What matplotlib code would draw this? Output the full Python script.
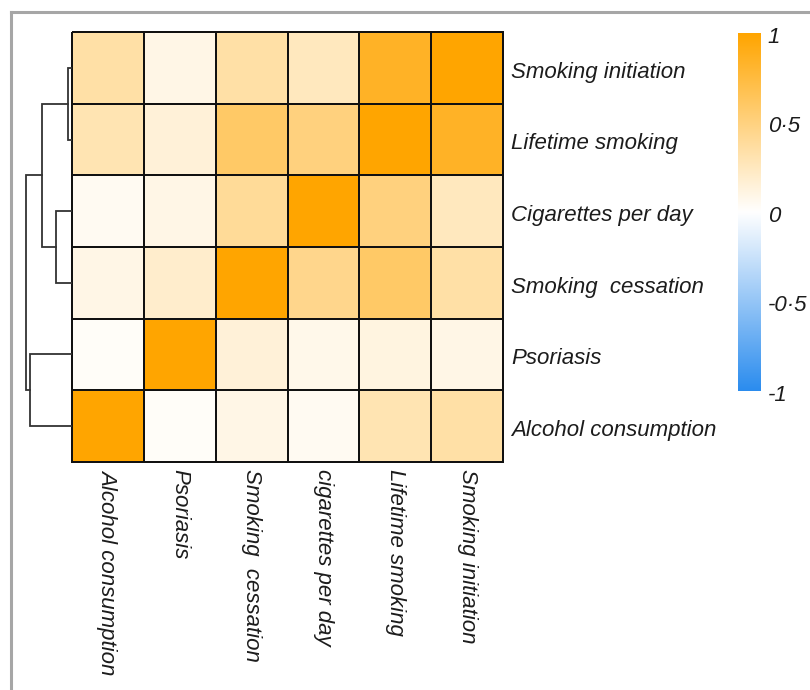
import matplotlib.pyplot as plt
import numpy as np
from matplotlib.colors import LinearSegmentedColormap
from matplotlib.lines import Line2D

plt.rcParams['font.family'] = ['Liberation Sans', 'DejaVu Sans']

row_labels = ['Smoking initiation', 'Lifetime smoking', 'Cigarettes per day',
              'Smoking  cessation', 'Psoriasis', 'Alcohol consumption']
col_labels = ['Alcohol consumption', 'Psoriasis', 'Smoking  cessation',
              'cigarettes per day', 'Lifetime smoking', 'Smoking initiation']

# correlation values, rows top->bottom, columns left->right
corr = np.array([
    [0.35, 0.10, 0.35, 0.25, 0.85, 1.00],
    [0.30, 0.15, 0.60, 0.50, 1.00, 0.85],
    [0.05, 0.10, 0.40, 1.00, 0.50, 0.25],
    [0.10, 0.20, 1.00, 0.45, 0.60, 0.35],
    [0.03, 1.00, 0.15, 0.08, 0.12, 0.10],
    [1.00, 0.03, 0.10, 0.05, 0.30, 0.35],
])

# dendrogram merges on rows (scipy-like: a, b, height); new ids start at 6
merges = [(0, 1, 4), (2, 3, 16), (6, 7, 30), (4, 5, 42), (8, 9, 46)]

cbar_ticks = [1, 0.5, 0, -0.5, -1]
cbar_labels = ['1', '0\u00b75', '0', '-0\u00b75', '-1']

cmap = LinearSegmentedColormap.from_list(
    'bwo', ['#2B8CEE', '#FFFFFF', '#FFA500'])

W, H = 810, 690
fig = plt.figure(figsize=(W / 100, H / 100), dpi=100)


def px_axes(x0, y0, x1, y1):
    return fig.add_axes([x0 / W, 1 - y1 / H, (x1 - x0) / W, (y1 - y0) / H])


# gray frame (top and left only)
fig.add_artist(Line2D([11 / W, 1], [1 - 12 / H, 1 - 12 / H], color='#a6a6a6', lw=2.2))
fig.add_artist(Line2D([11 / W, 11 / W], [1 - 12 / H, 0], color='#a6a6a6', lw=2.2))

# heatmap
hx0, hy0, hx1, hy1 = 72, 32, 503, 462
ax = px_axes(hx0, hy0, hx1, hy1)
n = len(row_labels)
mesh = ax.pcolormesh(np.arange(n + 1), np.arange(n + 1), corr, cmap=cmap,
                     vmin=-1, vmax=1, edgecolors='#111111', linewidth=1.4)
mesh.set_clip_on(False)
ax.set_xlim(0, n)
ax.set_ylim(n, 0)
ax.set_axis_off()

for i, lab in enumerate(row_labels):
    ax.text(n + 0.11, i + 0.56, lab, ha='left', va='center', fontsize=16,
            style='italic', color='#1c1c1c')
for j, lab in enumerate(col_labels):
    ax.text(j + 0.5, n + 0.1, lab, ha='center', va='top', fontsize=16,
            style='italic', color='#1c1c1c', rotation=270)

# dendrogram
dax = px_axes(0, hy0, hx0, hy1)
dax.set_xlim(72, 0)
dax.set_ylim(n, 0)
dax.set_axis_off()
pos = {i: (0.0, i + 0.5) for i in range(n)}
for k, (a, b, h) in enumerate(merges):
    ha_, ya = pos[a]
    hb, yb = pos[b]
    dax.plot([ha_, h, h, hb], [ya, ya, yb, yb], color='#333333', lw=1.3,
             solid_joinstyle='miter')
    pos[n + k] = (h, (ya + yb) / 2)

# colorbar
cax = px_axes(738, 33, 761, 391)
grad = np.linspace(1, -1, 256).reshape(-1, 1)
cax.imshow(grad, cmap=cmap, vmin=-1, vmax=1, aspect='auto',
           extent=[0, 1, -1, 1])
cax.set_xlim(0, 1)
cax.set_ylim(-1, 1)
cax.set_axis_off()
for t, lab in zip(cbar_ticks, cbar_labels):
    cax.text(1.3, t - 0.025, lab, ha='left', va='center', fontsize=16,
             style='italic', color='#1c1c1c')

fig.savefig('out.png', dpi=100)
